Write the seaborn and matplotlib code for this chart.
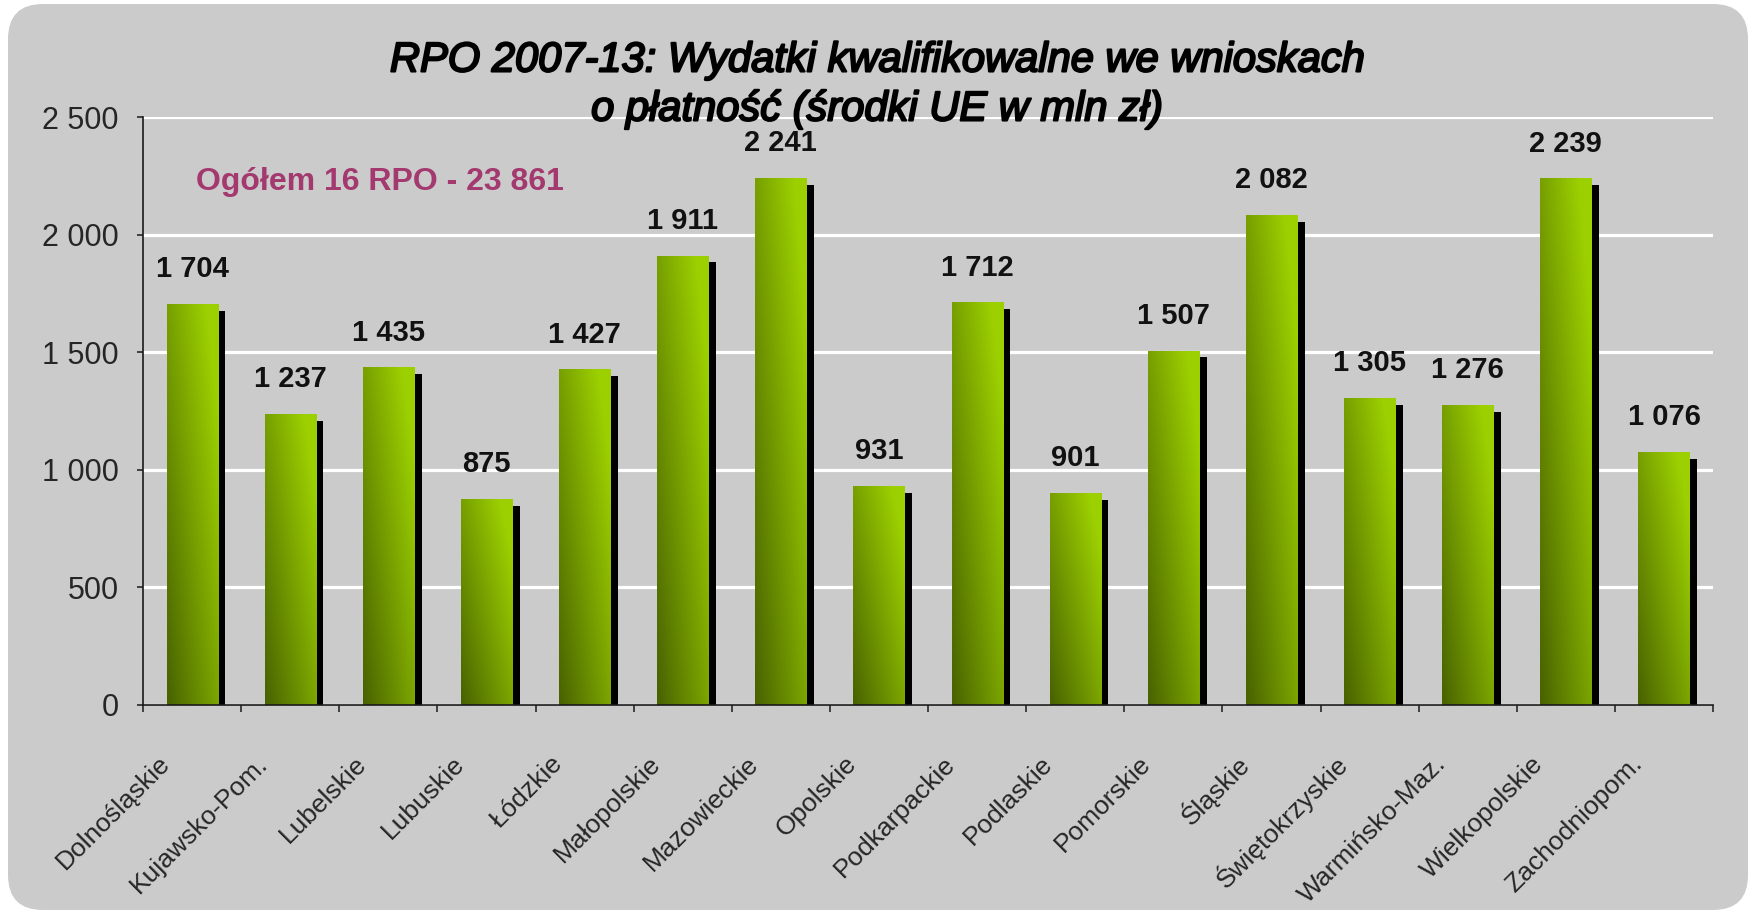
import numpy as np
import matplotlib
matplotlib.use("Agg")
import matplotlib.pyplot as plt
import matplotlib.patheffects as pe
import matplotlib.transforms as mtransforms
from matplotlib.patches import FancyBboxPatch
from matplotlib.colors import LinearSegmentedColormap
from matplotlib.ticker import FuncFormatter, FixedLocator
import seaborn as sns

# data (EU funds, mln zl)
regions = ["Dolnośląskie", "Kujawsko-Pom.", "Lubelskie", "Lubuskie", "Łódzkie",
           "Małopolskie", "Mazowieckie", "Opolskie", "Podkarpackie", "Podlaskie",
           "Pomorskie", "Śląskie", "Świętokrzyskie", "Warmińsko-Maz.",
           "Wielkopolskie", "Zachodniopom."]
values = [1704, 1237, 1435, 875, 1427, 1911, 2241, 931, 1712, 901,
          1507, 2082, 1305, 1276, 2239, 1076]
yticks = [0, 500, 1000, 1500, 2000, 2500]
title = "RPO 2007-13: Wydatki kwalifikowalne we wnioskach\no płatność (środki UE w mln zł)"
total_note = "Ogółem 16 RPO - 23 861"

sns.set_style("white")
plt.rcParams['font.family'] = ['Liberation Sans', 'DejaVu Sans']

panel_grey = "#cbcbcb"

def spaced(v):
    return f"{int(round(v)):,}".replace(",", " ")

fig = plt.figure(figsize=(17.54, 9.14), dpi=100)
fig.patch.set_facecolor("white")

# rounded grey panel behind everything
panel = FancyBboxPatch((0.08, 0.04), 17.40, 9.06,
                       boxstyle="round,pad=0,rounding_size=0.35",
                       transform=fig.dpi_scale_trans, facecolor=panel_grey,
                       edgecolor="none", zorder=-10)
fig.add_artist(panel)

ax = fig.add_axes([143 / 1754, 1 - 705 / 914, (1713 - 143) / 1754, (705 - 117) / 914])
ax.set_facecolor("none")

sns.barplot(x=regions, y=values, color="#8fbf00", width=0.52, ax=ax,
            saturation=1, edgecolor="none")

# black drop shadow to the lower right, like the Excel original
for p in ax.patches:
    p.set_path_effects([pe.SimplePatchShadow(offset=(5.6, -4.8), shadow_rgbFace="black", alpha=1.0),
                        pe.Normal()])
    p.set_facecolor("none")
    p.set_zorder(2)

# diagonal green gradient clipped to each bar
gx, gy = np.meshgrid(np.linspace(0, 1, 64), np.linspace(0, 1, 128))
grad = np.clip(0.6 * gx + 0.55 * gy, 0, 1)
green = LinearSegmentedColormap.from_list("green", ["#486200", "#739a00", "#9cd000"])
for p in ax.patches:
    x0, y0, w, h = p.get_x(), p.get_y(), p.get_width(), p.get_height()
    im = ax.imshow(grad, extent=[x0, x0 + w, y0, y0 + h], origin="lower",
                   cmap=green, aspect="auto", zorder=3, interpolation="bilinear")
    im.set_clip_path(p)

ax.set_xlim(-0.5, len(regions) - 0.5)
ax.set_ylim(0, 2500)
ax.set_aspect("auto")

# value labels
ax.bar_label(ax.containers[0], labels=[spaced(v) for v in values], padding=15,
             fontsize=21, fontweight="bold", color="#111111", zorder=5)

# grid and axes
ax.set_axisbelow(True)
ax.yaxis.set_major_locator(FixedLocator(yticks))
ax.yaxis.set_major_formatter(FuncFormatter(lambda v, pos: spaced(v)))
ax.grid(axis="y", color="white", linewidth=2.3)
ax.grid(axis="x", visible=False)
for s in ["top", "right"]:
    ax.spines[s].set_visible(False)
for s in ["left", "bottom"]:
    ax.spines[s].set_linewidth(1.2)
    ax.spines[s].set_color("#1a1a1a")
    ax.spines[s].set_zorder(6)

ax.tick_params(axis="y", direction="out", length=4.5, width=1.1, color="#1a1a1a",
               labelsize=22, pad=13, left=True)
ax.set_xticks(np.arange(len(regions)))
ax.set_xticks(np.arange(len(regions) + 1) - 0.5, minor=True)
ax.tick_params(axis="x", which="major", length=0, pad=0, labelsize=19)
ax.tick_params(axis="x", which="minor", direction="out", length=5, width=1.1,
               color="#1a1a1a", bottom=True)
ax.set_xticklabels(regions, rotation=45, ha="right", va="center", rotation_mode="anchor")
shift = mtransforms.ScaledTranslation(-0.26, -0.55, fig.dpi_scale_trans)
for lab in ax.get_xticklabels():
    lab.set_transform(lab.get_transform() + shift)
ax.set_xlabel("")
ax.set_ylabel("")

ax.text(0.0337, 0.889, total_note, transform=ax.transAxes, fontsize=23,
        fontweight="bold", color="#a3396f", ha="left", va="center")

fig.text(0.5, 0.907, title, ha="center", va="center", fontsize=30,
         fontstyle="italic", linespacing=1.25, color="black",
         path_effects=[pe.withStroke(linewidth=1.5, foreground="black")])

fig.savefig("out.png", dpi=100)
